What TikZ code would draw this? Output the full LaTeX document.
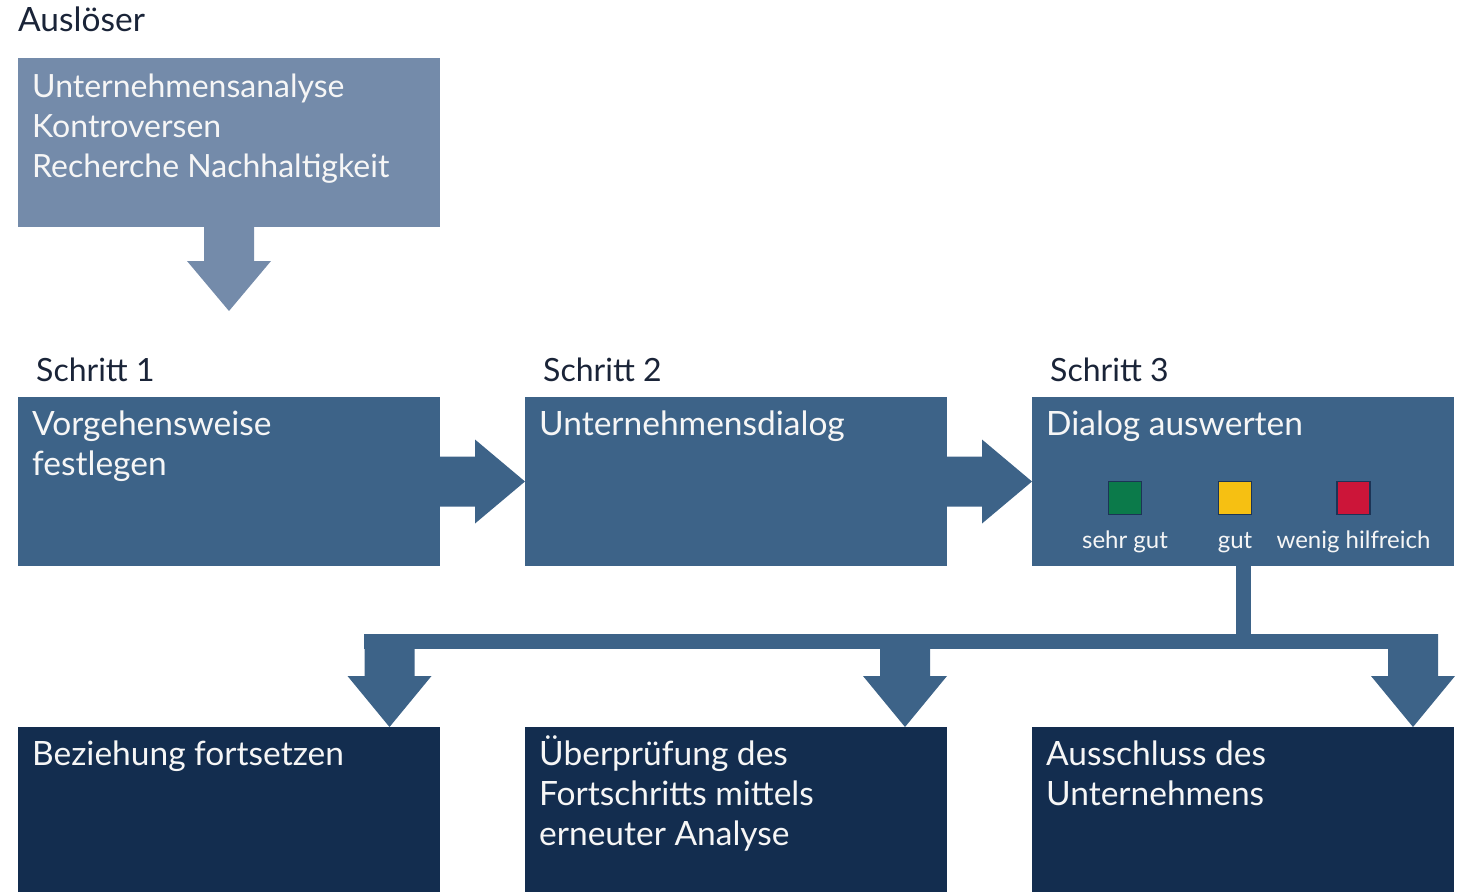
\documentclass[tikz,border=0pt]{standalone}
\usepackage{fontspec}
\setmainfont{Lato}
\usetikzlibrary{calc}
\definecolor{lightbox}{RGB}{116,139,170}
\definecolor{midbox}{RGB}{61,99,136}
\definecolor{darkbox}{RGB}{19,45,79}
\definecolor{headtext}{RGB}{26,36,56}
\definecolor{boxtext}{RGB}{246,246,246}
\definecolor{sqborder}{RGB}{28,52,86}
\definecolor{sqgreen}{RGB}{11,122,74}
\definecolor{sqyellow}{RGB}{246,192,18}
\definecolor{sqred}{RGB}{204,21,57}
\begin{document}
\begin{tikzpicture}[x=1pt,y=-1pt,
  box/.style={draw=none, minimum width=422pt, minimum height=169pt, inner sep=0pt, outer sep=0pt, anchor=north west},
  lbox/.style={box, fill=lightbox},
  mbox/.style={box, fill=midbox},
  dbox/.style={box, fill=darkbox, minimum height=170pt},
  line/.style={anchor=base west, inner sep=0pt, text=boxtext, font=\fontsize{33.5}{40}\selectfont},
  tline/.style={line, font=\fontsize{32}{40}\selectfont},
  heading/.style={anchor=base west, inner sep=0pt, text=headtext, font=\fontsize{32}{36}\selectfont},
  square/.style={draw=sqborder, line width=1.5pt, minimum size=33pt, inner sep=0pt},
  legend/.style={anchor=base, inner sep=0pt, text=boxtext, font=\fontsize{24}{28}\selectfont}
]
\useasboundingbox (0,0) rectangle (1463,891);

% Trigger
\node[heading, font=\fontsize{33.5}{36}\selectfont] (hA) at (18,32) {Auslöser};
\node[lbox] (trig) at (18,58) {};
\node[tline] (tl1) at (32,97) {Unternehmensanalyse};
\node[tline] (tl2) at (32,137) {Kontroversen};
\node[tline] (tl3) at (32,177) {Recherche Nachhaltigkeit};

% Steps
\node[heading] (h1) at (36,381) {Schritt 1};
\node[heading] (h2) at (543,381) {Schritt 2};
\node[heading] (h3) at (1050,381) {Schritt 3};
\node[mbox] (s1) at (18,397) {};
\node[mbox] (s2) at (525,397) {};
\node[mbox] (s3) at (1032,397) {};
\node[line] (s1l1) at (32,435) {Vorgehensweise};
\node[line] (s1l2) at (32,475) {festlegen};
\node[line] (s2l1) at (539,435) {Unternehmensdialog};
\node[line] (s3l1) at (1046,435) {Dialog auswerten};

% Legend
\node[square, fill=sqgreen] (qg) at (1125,498) {};
\node[square, fill=sqyellow] (qy) at (1235,498) {};
\node[square, fill=sqred] (qr) at (1353.5,498) {};
\node[legend] (lg) at (1125,548) {sehr gut};
\node[legend] (ly) at (1235,548) {gut};
\node[legend] (lr) at (1353.5,548) {wenig hilfreich};

% Outcomes
\node[dbox] (o1) at (18,727) {};
\node[dbox] (o2) at (525,727) {};
\node[dbox] (o3) at (1032,727) {};
\node[line] (o1l1) at (32,765) {Beziehung fortsetzen};
\node[line] (o2l1) at (539,765) {Überprüfung des};
\node[line] (o2l2) at (539,805) {Fortschritts mittels};
\node[line] (o2l3) at (539,845) {erneuter Analyse};
\node[line] (o3l1) at (1046,765) {Ausschluss des};
\node[line] (o3l2) at (1046,805) {Unternehmens};

% Down arrow trigger -> step 1
\fill[lightbox] ($(trig.south)+(-25,0)$) -- ++(0,34) -- ++(-17,0)
  -- ($(trig.south)+(0,84)$) -- ($(trig.south)+(42,34)$) -- ++(-17,0)
  -- ($(trig.south)+(25,0)$) -- cycle;

% Right arrows between steps
\foreach \a/\b in {s1/s2, s2/s3}{
  \fill[midbox] ($(\a.east)+(0,-25)$) -- ++(35,0) -- ++(0,-17)
    -- (\b.west) -- ($(\a.east)+(35,42)$) -- ++(0,-17)
    -- ($(\a.east)+(0,25)$) -- cycle;
}

% Branch connector
\coordinate (bar) at (1243.5,649);
\coordinate (t1) at (389.5,727);
\coordinate (t2) at (905,727);
\coordinate (t3) at (1413,727);
\fill[midbox] ($(s3.south)+(-7,0)$) rectangle ($(bar)+(7.5,0)$);
\fill[midbox] ($(t1)+(-25.5,-93)$) rectangle ($(t3)+(25,-78)$);
\foreach \t in {t1,t2,t3}{
  \fill[midbox] ($(\t)+(-25,-93)$) -- ($(\t)+(25,-93)$) -- ($(\t)+(25,-51)$)
    -- ($(\t)+(42,-51)$) -- (\t) -- ($(\t)+(-42,-51)$) -- ($(\t)+(-25,-51)$) -- cycle;
}
\end{tikzpicture}
\end{document}
